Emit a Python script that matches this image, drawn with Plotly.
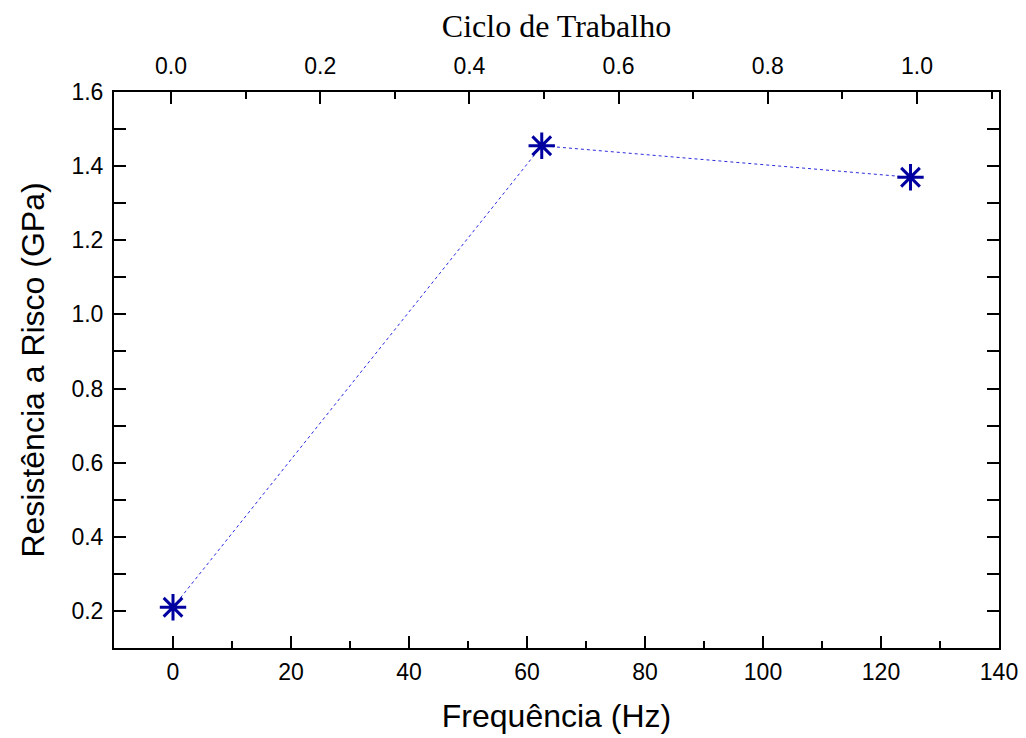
import plotly.graph_objects as go

freq_hz = [0, 62.5, 125]
duty_cycle = [0.0, 0.5, 1.0]
resistance_gpa = [0.21, 1.455, 1.37]

x_title = "Frequência (Hz)"
x2_title = "Ciclo de Trabalho"
y_title = "Resistência a Risco (GPa)"

fig = go.Figure()
fig.add_trace(go.Scatter(
    x=freq_hz, y=resistance_gpa, mode="lines+markers",
    line=dict(color="#2a2ae0", width=1, dash="dot"),
    marker=dict(symbol="asterisk-open", size=22, color="#0000a0",
                line=dict(color="#0000a0", width=3)),
    showlegend=False, hoverinfo="x+y",
))
fig.add_trace(go.Scatter(
    x=duty_cycle, y=resistance_gpa, xaxis="x2", mode="markers",
    marker=dict(opacity=0), showlegend=False, hoverinfo="skip",
))

tick_font = dict(family="Liberation Sans, Arial", size=23, color="black")
axis_common = dict(
    showline=True, linecolor="black", linewidth=2,
    ticks="inside", ticklen=12, tickwidth=2, tickcolor="black",
    showgrid=False, zeroline=False, tickfont=tick_font, automargin=False,
)
minor_common = dict(ticks="inside", ticklen=7, tickwidth=2, tickcolor="black")

fig.update_layout(
    width=1026, height=738,
    margin=dict(l=114, r=27, t=92, b=90),
    paper_bgcolor="white", plot_bgcolor="white",
    xaxis=dict(
        **axis_common, range=[-10, 140], dtick=20, tick0=0,
        ticklabelstandoff=2,
        minor=dict(**minor_common, dtick=10),
        title=dict(text=x_title, font=dict(family="Liberation Sans, Arial", size=32, color="black"), standoff=21),
    ),
    xaxis2=dict(
        **axis_common, overlaying="x", side="top", range=[-0.0765, 1.110],
        dtick=0.2, tick0=0, tickformat=".1f", ticklabelstandoff=7,
        minor=dict(**minor_common, dtick=0.1),
        title=dict(text=x2_title, font=dict(family="Liberation Serif, Times New Roman", size=32, color="black"), standoff=6),
    ),
    yaxis=dict(
        **axis_common, range=[0.1, 1.6], dtick=0.2, tick0=0.2, tickformat=".1f",
        mirror="allticks", ticklabelstandoff=4,
        minor=dict(**minor_common, dtick=0.1),
        title=dict(text=y_title, font=dict(family="Liberation Sans, Arial", size=32, color="black"), standoff=17),
    ),
)

fig.write_html("out.html")
